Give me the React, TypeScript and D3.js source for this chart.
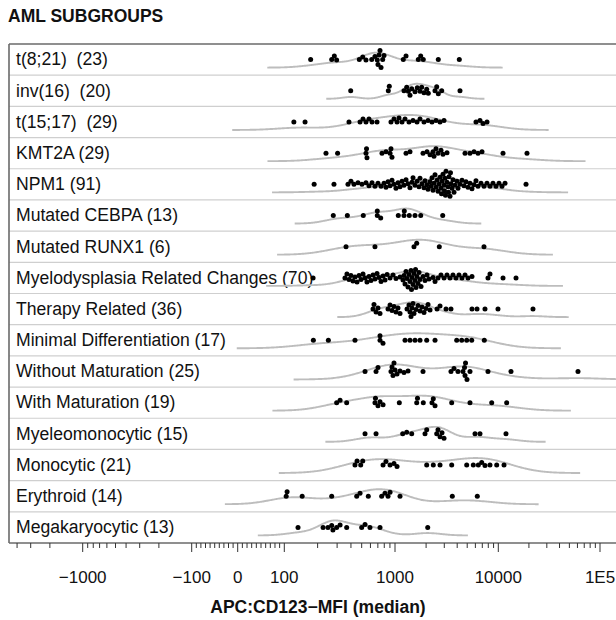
import React from 'react';
import * as d3 from 'd3';

const title = "AML SUBGROUPS";
const axisTitle = "APC:CD123\u2212MFI (median)";

const categories = [
  "t(8;21)  (23)", "inv(16)  (20)", "t(15;17)  (29)", "KMT2A (29)", "NPM1 (91)",
  "Mutated CEBPA (13)", "Mutated RUNX1 (6)", "Myelodysplasia Related Changes (70)",
  "Therapy Related (36)", "Minimal Differentiation (17)", "Without Maturation (25)",
  "With Maturation (19)", "Myeleomonocytic (15)", "Monocytic (21)", "Erythroid (14)",
  "Megakaryocytic (13)"
];

const t821 = [173, 268, 283, 297, 476, 511, 547, 616, 659, 692, 702, 717, 732, 748, 774, 796, 1203, 1278, 1681, 1774, 1879, 2625, 4193];
const inv16 = [398, 870, 888, 1222, 1298, 1345, 1397, 1451, 1562, 1644, 1746, 1813, 1908, 2027, 2101, 2439, 2533, 2626, 2832, 4258];
const t1517 = [122, 154, 384, 483, 514, 547, 582, 620, 688, 920, 979, 1046, 1093, 1169, 1250, 1366, 1494, 1633, 1746, 1908, 2087, 2281, 2494, 2728, 2981, 6081, 6650, 7112, 7774];
const kmt2a = [238, 303, 547, 553, 558, 763, 829, 902, 920, 939, 1278, 1397, 1867, 2041, 2183, 2333, 2385, 2494, 2608, 2788, 2915, 3187, 4761, 5321, 5821, 6362, 6953, 11124, 19150];
const npm1 = [186, 281, 376, 400, 426, 463, 503, 547, 582, 620,
  659, 702, 748, 796, 829, 865, 902, 939, 979, 1022,
  1069, 1118, 1169, 1222, 1278, 1337, 1397, 1461, 1494, 1562,
  1633, 1708, 1746, 1826, 1909, 1952, 2041, 2087, 2183, 2232,
  2282, 2333, 2385, 2440, 2494, 2551, 2608, 2667, 2728, 2788,
  2820, 2851, 2915, 2981, 3014, 3048, 3082, 3117, 3187, 3258,
  3295, 3332, 3407, 3445, 3483, 3562, 3642, 3724, 3808, 3981,
  4071, 4258, 4450, 4653, 4866, 5087, 5321, 5563, 5817, 6082,
  6360, 6800, 7270, 7770, 8310, 8880, 9500, 10160, 10870, 11640, 18730];
const cebpa = [277, 371, 517, 692, 692, 743, 1076, 1222, 1230, 1375, 1562, 1774, 2896];
const runx1 = [361, 659, 1527, 1622, 2685, 7270];
const mrc = [182, 353, 368, 384, 400, 417, 435, 454, 473, 493,
  514, 536, 558, 582, 607, 633, 659, 688, 717, 748,
  780, 813, 848, 902, 960, 1022,
  1118, 1195, 1222, 1250, 1278, 1307, 1337, 1366, 1397, 1429,
  1445, 1461, 1494, 1527, 1562, 1580, 1597, 1633, 1670, 1708,
  1746, 1786, 1867, 1952, 2041, 2134,
  2333, 2440, 2608, 2788, 2981, 3187, 3407, 3642, 3894, 4163, 4450, 4761, 5087, 5563,
  7948, 8310, 11124, 14930];
const therapy = [633, 646, 674, 702, 732, 865, 902, 939, 979, 1022, 1069, 1118, 1307, 1366, 1397, 1429, 1461, 1494, 1527, 1597, 1670, 1746, 1826, 1909, 1996, 2087, 2183, 2551, 2728, 3117, 3483, 5563, 6222, 7432, 9930, 21930];
const minDiff = [183, 250, 435, 732, 732, 779, 1250, 1397, 1562, 1746, 2027, 2440, 3957, 4423, 4945, 5527, 7320];
const withoutMat = [536, 674, 702, 920, 939, 959, 979, 1000, 1046, 1118, 1222, 1337, 1867, 3483, 3724, 4071, 4550, 4708, 4761, 4815, 4977, 5321, 7948, 13330, 60760];
const withMat = [297, 319, 366, 659, 666, 702, 732, 780, 1101, 1622, 1651, 1879, 2281, 2348, 2440, 3539, 5321, 8632, 12090];
const myelomono = [536, 674, 1187, 1298, 1451, 1952, 2027, 2533, 2608, 2728, 2851, 2981, 5950, 6650, 11900];
const monocytic = [435, 454, 490, 511, 780, 829, 902, 979, 1046, 2027, 2348, 2728, 3539, 4945, 5728, 6405, 6908, 7432, 8310, 9650, 11380];
const erythroid = [104, 106, 145, 268, 451, 483, 574, 758, 812, 865, 902, 1118, 3586, 6262];
const megak = [133, 224, 248, 268, 275, 297, 319, 366, 500, 536, 594, 732, 2073];

const series = [t821, inv16, t1517, kmt2a, npm1, cebpa, runx1, mrc, therapy, minDiff, withoutMat, withMat, myelomono, monocytic, erythroid, megak];

const tickValues = [-1000, -100, 0, 100, 1000, 10000, 100000];
const tickLabels = ["\u22121000", "\u2212100", "0", "100", "1000", "10000", "1E5"];

// biexponential-like transform: linear within +/-100, log beyond
function tr(v: number): number {
  const a = Math.abs(v);
  if (a <= 100) return v / 100;
  return Math.sign(v) * (1 + Math.log10(a / 100));
}

const W = 616, H = 620;
const FONT = "'Liberation Sans', Arial, Helvetica, sans-serif";

// Gaussian KDE (bw.nrd0, cut = 3) computed on display positions
function kde(ps: number[]) {
  const n = ps.length;
  const sorted = ps.slice().sort(d3.ascending);
  const sd = d3.deviation(sorted) || 10;
  const iqr = (d3.quantile(sorted, 0.75) as number) - (d3.quantile(sorted, 0.25) as number);
  let lo = Math.min(sd, iqr / 1.34);
  if (!(lo > 0)) lo = sd;
  const bw = 0.9 * lo * Math.pow(n, -0.2);
  const mn = sorted[0] - 3 * bw, mx = sorted[n - 1] + 3 * bw;
  const grid = d3.range(0, 241).map(i => mn + (mx - mn) * i / 240);
  const dens = grid.map(g => d3.sum(sorted, t => Math.exp(-0.5 * ((g - t) / bw) ** 2)));
  const m = d3.max(dens) as number;
  return grid.map((g, i) => [g, dens[i] / m] as [number, number]);
}

function swarm(xs: number[], cy: number, D: number) {
  const order = d3.range(xs.length).sort((a, b) => xs[a] - xs[b]);
  const placed: { x: number; y: number }[] = [];
  const out: { x: number; y: number }[] = new Array(xs.length);
  for (const i of order) {
    const x = xs[i];
    let y = cy;
    for (let k = 0; k < 200; k++) {
      const dy = (k % 2 === 0 ? 1 : -1) * Math.ceil(k / 2) * 0.5;
      const yy = cy + dy;
      const hit = placed.some(p => Math.abs(p.x - x) < D && Math.hypot(p.x - x, p.y - yy) < D);
      if (!hit) { y = yy; break; }
    }
    const p = { x, y };
    placed.push(p);
    out[i] = p;
  }
  return out;
}

export default function App() {
  const left = 9, top = 44, bottom = 543, right = 620;
  const x = d3.scaleLinear()
    .domain([-2, -1, 0, 1, 2, 3, 4])
    .range([82.7, 191.7, 237.7, 284.3, 395, 498.3, 600]);
  const y = d3.scaleBand<number>()
    .domain(d3.range(categories.length))
    .range([top, bottom])
    .paddingInner(0).paddingOuter(0);
  const rowH = y.bandwidth();

  const minor: number[] = [];
  for (const p of [100, 1000, 10000]) {
    for (let k = 2; k <= 9; k++) { minor.push(k * p); minor.push(-k * p); }
  }
  for (let k = -9; k <= 9; k++) if (k !== 0) minor.push(k * 10);
  const minorTicks = minor.filter(v => { const px = x(tr(v)); return px > left + 1 && px < W; });

  const line = d3.line<[number, number]>().curve(d3.curveBasis);

  return (
    <svg width={W} height={H} style={{ position: 'absolute', left: 0, top: 0, background: '#fff' }}
      fontFamily={FONT}>
      <text x={8} y={22} fontSize={17.5} fontWeight="bold" fill="#111">{title}</text>

      {d3.range(1, categories.length).map(i => (
        <line key={'sep' + i} x1={left} x2={W} y1={y(i)} y2={y(i)} stroke="#cfcfcf" strokeWidth={1.2} />
      ))}

      {categories.map((c, i) => (
        <text key={'lab' + i} x={16} y={(y(i) as number) + rowH / 2 + 5.8} fontSize={17.6} fill="#111"
          style={{ whiteSpace: 'pre' }}>{c}</text>
      ))}

      {series.map((vals, i) => {
        const cy = (y(i) as number) + rowH / 2;
        const base = cy + 8;
        const pts = kde(vals.map(v => x(tr(v)))).map(([px, d]) => [px, base - d * 15] as [number, number]);
        return <path key={'d' + i} d={line(pts) || ''} fill="none" stroke="#bdbdbd" strokeWidth={1.9} />;
      })}

      {series.map((vals, i) => {
        const cy = (y(i) as number) + rowH / 2;
        const pos = swarm(vals.map(v => x(tr(v))), cy, 4.2);
        return (
          <g key={'p' + i}>
            {pos.map((p, j) => <circle key={j} cx={p.x} cy={p.y} r={2.5} fill="#000" />)}
          </g>
        );
      })}

      <line x1={left} x2={right} y1={top} y2={top} stroke="#6a6a6a" strokeWidth={1.6} />
      <line x1={left} x2={right} y1={bottom} y2={bottom} stroke="#6a6a6a" strokeWidth={1.6} />
      <line x1={left} x2={left} y1={top} y2={bottom} stroke="#6a6a6a" strokeWidth={1.6} />

      {minorTicks.map((v, i) => (
        <line key={'mt' + i} x1={x(tr(v))} x2={x(tr(v))} y1={bottom} y2={bottom + 5} stroke="#333" strokeWidth={1} />
      ))}
      {tickValues.map((v, i) => (
        <g key={'t' + i}>
          <line x1={x(tr(v))} x2={x(tr(v))} y1={bottom} y2={bottom + 9} stroke="#333" strokeWidth={1} />
          <text x={x(tr(v))} y={583} fontSize={17} textAnchor="middle" fill="#111">{tickLabels[i]}</text>
        </g>
      ))}
      <text x={318} y={613} fontSize={17.5} fontWeight="bold" textAnchor="middle" fill="#111">{axisTitle}</text>
    </svg>
  );
}
